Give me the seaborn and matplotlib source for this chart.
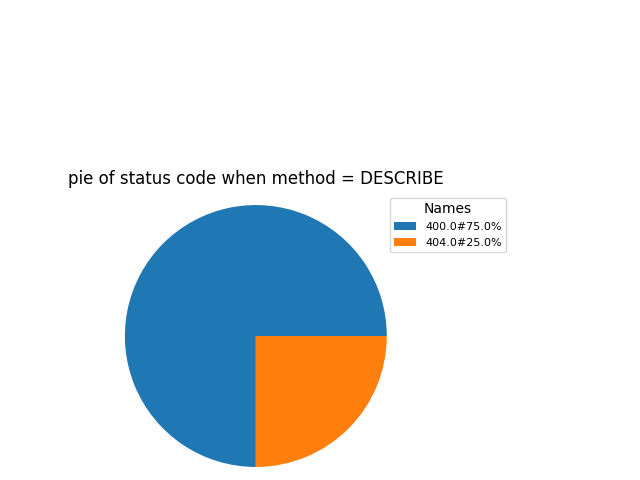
import matplotlib
matplotlib.use("Agg")
import matplotlib.pyplot as plt
import seaborn as sns

# ── Data ───────────────────────────────────────────────
status_codes = ["400.0", "404.0"]
shares = [75.0, 25.0]
labels = [f"{c}#{s}%" for c, s in zip(status_codes, shares)]

# ── Plot ───────────────────────────────────────────────
plt.rcParams['font.family'] = ['DejaVu Sans']
colors = sns.color_palette("tab10", len(shares))

fig = plt.figure(figsize=(6.4, 4.8), dpi=100)
ax = fig.add_axes([0.181, 0.0083, 0.4375, 0.5833])
wedges, _ = ax.pie(shares, colors=colors, wedgeprops={"linewidth": 0})
ax.set_xlim(-1.069, 1.069)
ax.set_ylim(-1.069, 1.069)
ax.set_aspect('equal')
ax.set_title("pie of status code when method = DESCRIBE", fontsize=12,
             color="black", pad=9)

fig.legend(wedges, labels, title="Names", fontsize=8, title_fontsize=10,
           loc="upper left", bbox_to_anchor=(0.609, 0.5875), borderaxespad=0)

fig.savefig("out.png")
